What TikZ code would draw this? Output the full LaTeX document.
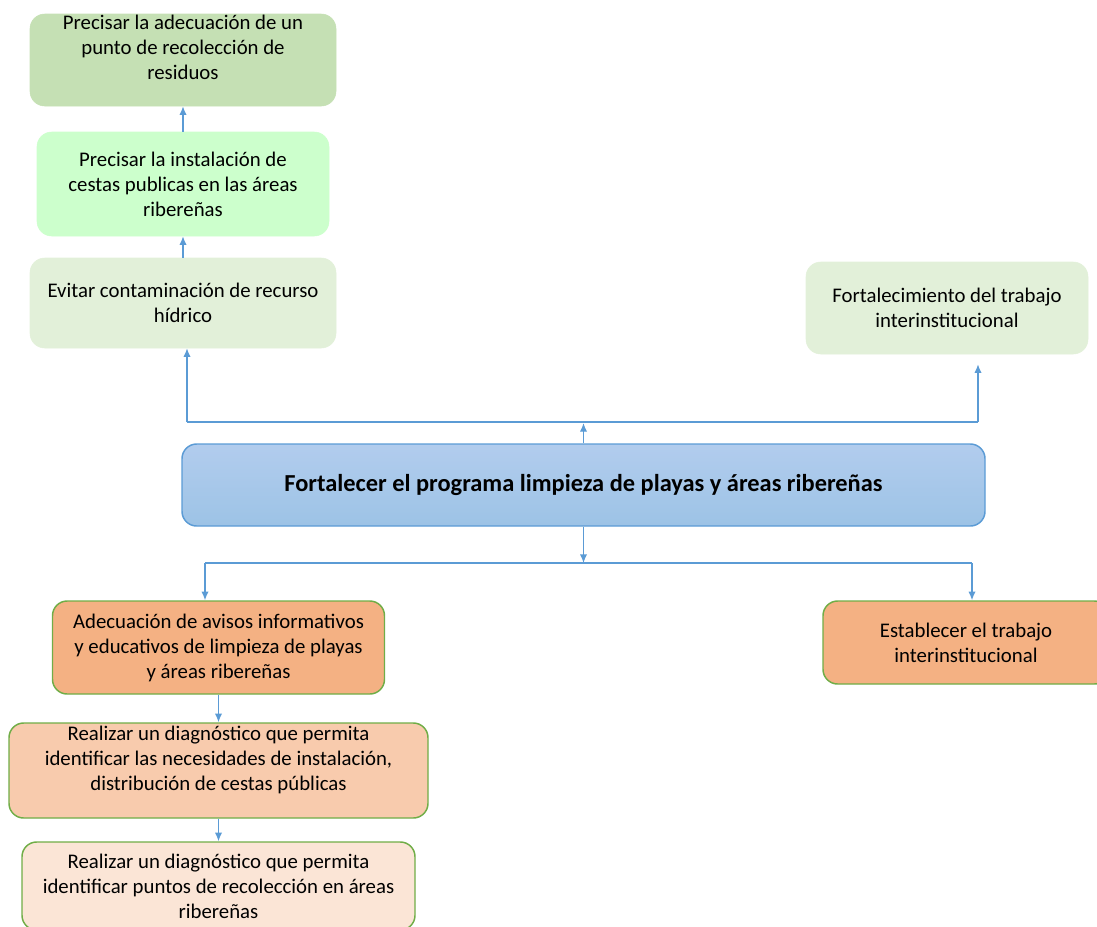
\documentclass[tikz,border=0pt]{standalone}
\usepackage{fontspec}
\setmainfont{Carlito}
\usetikzlibrary{arrows.meta}
\definecolor{linkblue}{HTML}{5B9BD5}
\definecolor{olive}{HTML}{C5E0B4}
\definecolor{mint}{HTML}{CCFFCC}
\definecolor{palegreen}{HTML}{E2F0D9}
\definecolor{orange}{HTML}{F4B183}
\definecolor{peach}{HTML}{F8CBAD}
\definecolor{palepeach}{HTML}{FBE5D6}
\definecolor{edgegreen}{HTML}{70AD47}
\newcommand{\px}{0.75pt}
\begin{document}
\begin{tikzpicture}[x=0.75pt, y=-0.75pt,
    box/.style={rectangle, rounded corners=11pt, align=center, inner sep=0pt,
        font=\fontsize{15.6}{18.75}\selectfont},
    effect/.style={box, draw=#1, fill=#1},
    cause/.style={box, draw=edgegreen, line width=1.1pt, fill=#1},
    link/.style={draw=linkblue, line width=1pt, -{Latex[length=6.5pt,width=5.5pt]}},
    line/.style={draw=linkblue, line width=1pt}]
    \useasboundingbox (0,0) rectangle (1097,926);

    % Effects (top)
    \node[effect=olive, minimum width=306*\px, minimum height=92*\px] (adecPunto) at (183,60)
        {Precisar la adecuación de un\\punto de recolección de\\residuos\\\mbox{}};
    \node[effect=mint, minimum width=292*\px, minimum height=104*\px] (cestas) at (183,184)
        {Precisar la instalación de\\cestas publicas en las áreas\\ribereñas};
    \node[effect=palegreen, minimum width=306*\px, minimum height=90*\px] (evitar) at (183,303)
        {Evitar contaminación de recurso\\hídrico};
    \node[effect=palegreen, minimum width=282*\px, minimum height=92*\px] (fortal) at (947,308)
        {Fortalecimiento del trabajo\\interinstitucional};

    % Central problem
    \node[box, draw=linkblue, line width=1.1pt, top color=blue!8!linkblue!45, bottom color=linkblue!60,
        minimum width=803*\px, minimum height=82*\px, font=\fontsize{18.3}{22}\selectfont\bfseries] (main) at (583.5,485)
        {Fortalecer el programa limpieza de playas y áreas ribereñas};

    % Causes (bottom)
    \node[cause=orange, minimum width=332*\px, minimum height=93*\px] (avisos) at (218.5,647.5)
        {Adecuación de avisos informativos\\y educativos de limpieza de playas\\y áreas ribereñas};
    \node[cause=peach, minimum width=419*\px, minimum height=95*\px] (diagCestas) at (218.5,770.5)
        {Realizar un diagnóstico que permita\\identificar las necesidades de instalación,\\distribución de cestas públicas\\\mbox{}};
    \node[cause=palepeach, minimum width=393*\px, minimum height=88*\px] (diagPuntos) at (218.5,886)
        {Realizar un diagnóstico que permita\\identificar puntos de recolección en áreas\\ribereñas};
    \node[cause=orange, minimum width=286*\px, minimum height=83*\px] (establecer) at (966,642.5)
        {Establecer el trabajo\\interinstitucional};

    % Upper branches
    \coordinate (busUp) at (583,423);
    \coordinate (busUL) at (187,422);
    \coordinate (busUR) at (978,422);
    \draw[link] (main.north) -- (main.north |- busUp);
    \draw[line] (busUL) -- (busUR);
    \draw[link] (busUL) -- (busUL |- evitar.south);
    \draw[link, shorten >=7.5pt] (busUR) -- (busUR |- fortal.south);
    \draw[link] (evitar.north) -- (cestas.south);
    \draw[link] (cestas.north) -- (adecPunto.south);

    % Lower branches
    \coordinate (busDn) at (583,563);
    \coordinate (busDL) at (205,563);
    \coordinate (busDR) at (972,563);
    \draw[link] (main.south) -- (main.south |- busDn);
    \draw[line] (busDL) -- (busDR);
    \draw[link] (busDL) -- (busDL |- avisos.north);
    \draw[link] (busDR) -- (busDR |- establecer.north);
    \draw[link] (avisos.south) -- (diagCestas.north);
    \draw[link] (diagCestas.south) -- (diagPuntos.north);
\end{tikzpicture}
\end{document}
